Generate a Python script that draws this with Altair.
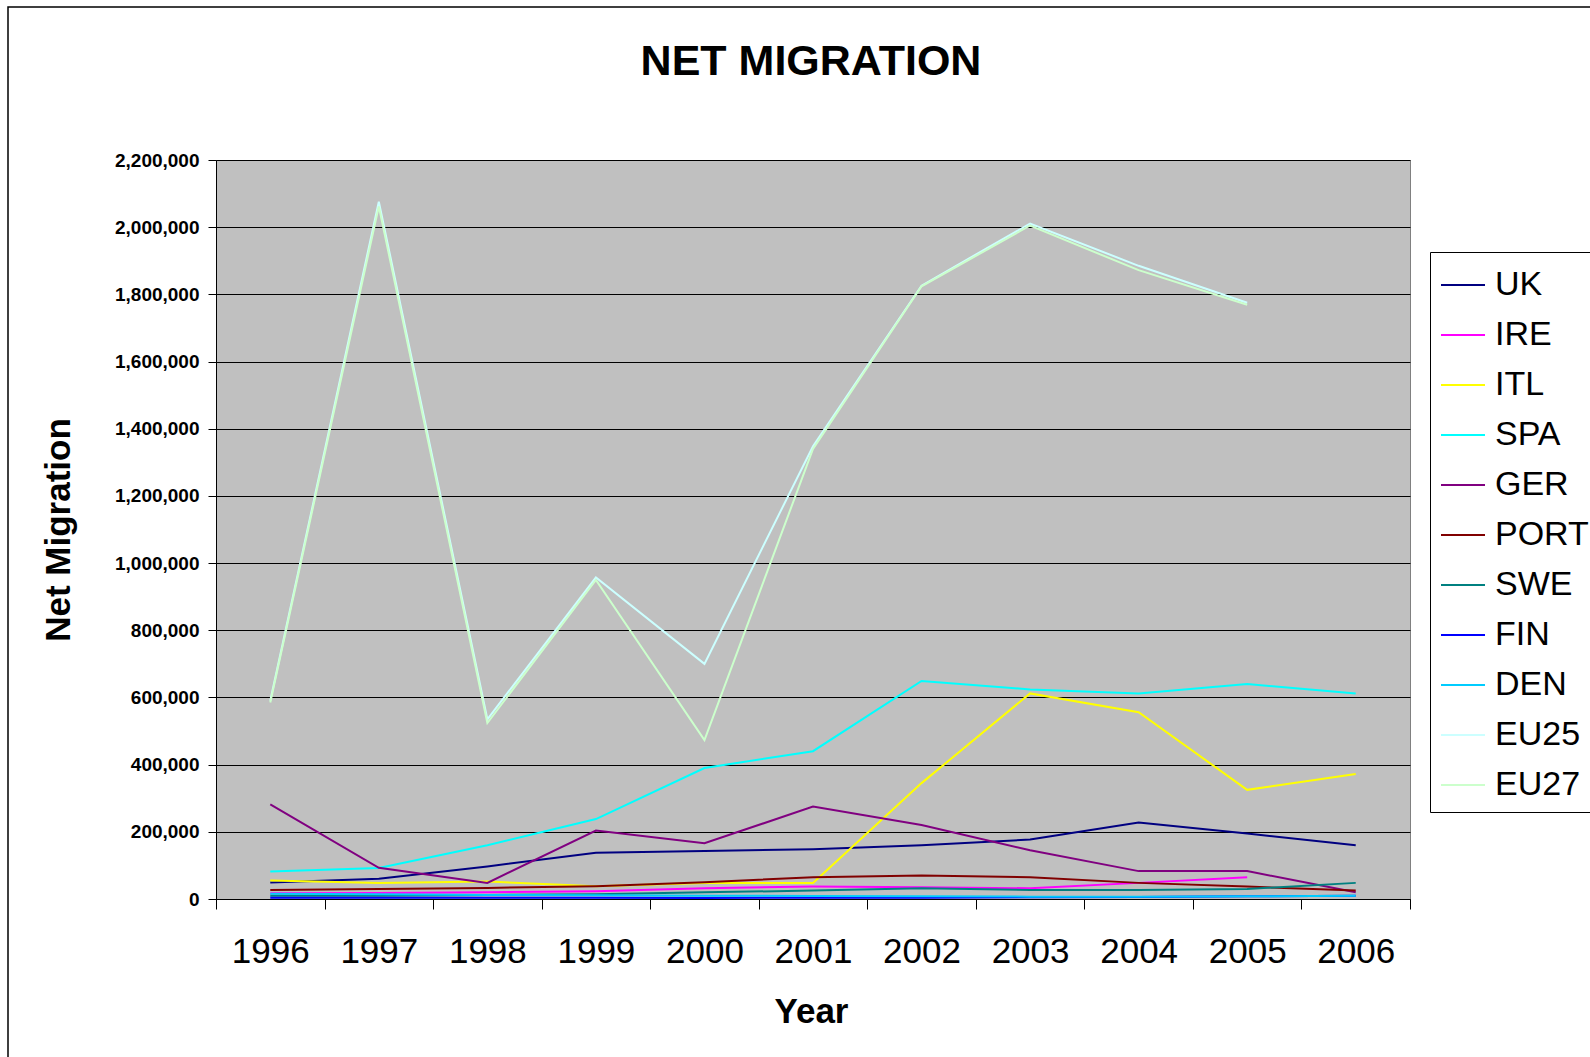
import altair as alt
import pandas as pd

years = ["1996", "1997", "1998", "1999", "2000", "2001", "2002", "2003", "2004", "2005", "2006"]
series_names = ["UK", "IRE", "ITL", "SPA", "GER", "PORT", "SWE", "FIN", "DEN", "EU25", "EU27"]
colors = ["#000080", "#FF00FF", "#FFFF00", "#00FFFF", "#800080", "#800000",
          "#008080", "#0000FF", "#00CCFF", "#CCFFFF", "#CCFFCC"]

UK = [49000, 60000, 97000, 138000, 143000, 148000, 160000, 177000, 228000, 195000, 160000]
IRE = [17000, 18000, 20000, 23000, 32000, 37000, 35000, 32000, 48000, 65000, None]
ITL = [55000, 48000, 52000, 38000, 48000, 48000, 345000, 612000, 556000, 325000, 372000]
SPA = [82000, 92000, 160000, 238000, 390000, 440000, 649000, 624000, 612000, 640000, 612000]
GER = [282000, 93000, 48000, 204000, 166000, 275000, 220000, 145000, 83000, 83000, 20000]
PORT = [27000, 30000, 33000, 38000, 50000, 65000, 70000, 65000, 48000, 37000, 25000]
SWE = [10000, 10000, 12000, 14000, 20000, 25000, 32000, 27000, 27000, 30000, 48000]
FIN = [4000, 4000, 4000, 4000, 3000, 4000, 4000, 5000, 6000, 8000, 10000]
DEN = [16000, 14000, 12000, 11000, 10000, 9000, 8000, 7000, 7000, 8000, 10000]
EU25 = [590000, 2076000, 535000, 957000, 700000, 1348000, 1826000, 2011000, 1885000, 1775000, None]
EU27 = [585000, 2062000, 524000, 950000, 473000, 1340000, 1824000, 2005000, 1872000, 1769000, None]

all_values = [UK, IRE, ITL, SPA, GER, PORT, SWE, FIN, DEN, EU25, EU27]
y_ticks = [0, 200000, 400000, 600000, 800000, 1000000, 1200000, 1400000,
           1600000, 1800000, 2000000, 2200000]

rows = []
for name, vals in zip(series_names, all_values):
    for yr, v in zip(years, vals):
        if v is not None:
            rows.append({"Year": yr, "Series": name, "Value": v})
df = pd.DataFrame(rows)

W, H = 1194, 739
FONT = "Liberation Sans"

lines = alt.Chart(df).mark_line(strokeWidth=2).encode(
    x=alt.X("Year:N", sort=years, bandPosition=0.5,
            scale=alt.Scale(type="band", paddingInner=0, paddingOuter=0),
            axis=alt.Axis(title="Year", labelAngle=0, tickBand="extent",
                          labelFontSize=35, labelFont=FONT, labelColor="black",
                          labelBaseline="middle", labelPadding=42, tickSize=10,
                          tickColor="black", domainColor="black", grid=False,
                          titleFontSize=35, titleFont=FONT, titleFontWeight="bold",
                          titleColor="black", titleY=112, titleX=W / 2 - 2,
                          titleBaseline="middle", titleAlign="center")),
    y=alt.Y("Value:Q", scale=alt.Scale(domain=[0, 2200000], nice=False),
            axis=alt.Axis(title="Net Migration", values=y_ticks, format=",.0f",
                          labelFontSize=19, labelFont=FONT, labelFontWeight="bold",
                          labelColor="black", labelPadding=9, tickSize=8,
                          tickColor="black", domainColor="black",
                          gridColor="black", gridWidth=1, gridOpacity=1,
                          titleFontSize=35, titleFont=FONT, titleFontWeight="bold",
                          titleColor="black", titleX=-158, titleY=H / 2,
                          titleAngle=270, titleBaseline="middle", titleAlign="center")),
    color=alt.Color("Series:N", sort=series_names,
                    scale=alt.Scale(domain=series_names, range=colors),
                    legend=alt.Legend(title=None, orient="none", legendX=1214, legendY=92,
                                      strokeColor="black", fillColor="white", padding=10,
                                      symbolType="stroke", symbolSize=1936,
                                      symbolStrokeWidth=2, labelFontSize=34, labelFont=FONT,
                                      labelColor="black", labelOffset=9, rowPadding=10,
                                      labelLimit=400, cornerRadius=0)),
    order=alt.Order("Series:N"),
)

frame = alt.Chart(pd.DataFrame({"a": [0]})).mark_rect(
    fillOpacity=0, stroke="black", strokeWidth=1.5
).encode(x=alt.value(-208), x2=alt.value(1420), y=alt.value(-153), y2=alt.value(1000))

chart = alt.layer(lines, frame).properties(
    width=W, height=H,
    title=alt.TitleParams("NET MIGRATION", fontSize=43, font=FONT, fontWeight="bold",
                          color="black", anchor="middle", offset=-112, baseline="alphabetic",
                          dx=-2),
    padding={"left": 216, "top": 160, "right": 180, "bottom": 158},
    autosize=alt.AutoSizeParams(type="none"),
    background="white",
).configure_view(fill="#C0C0C0", stroke="#808080", strokeWidth=1)

chart.save("out.html", embed_options={"renderer": "svg", "actions": False})
